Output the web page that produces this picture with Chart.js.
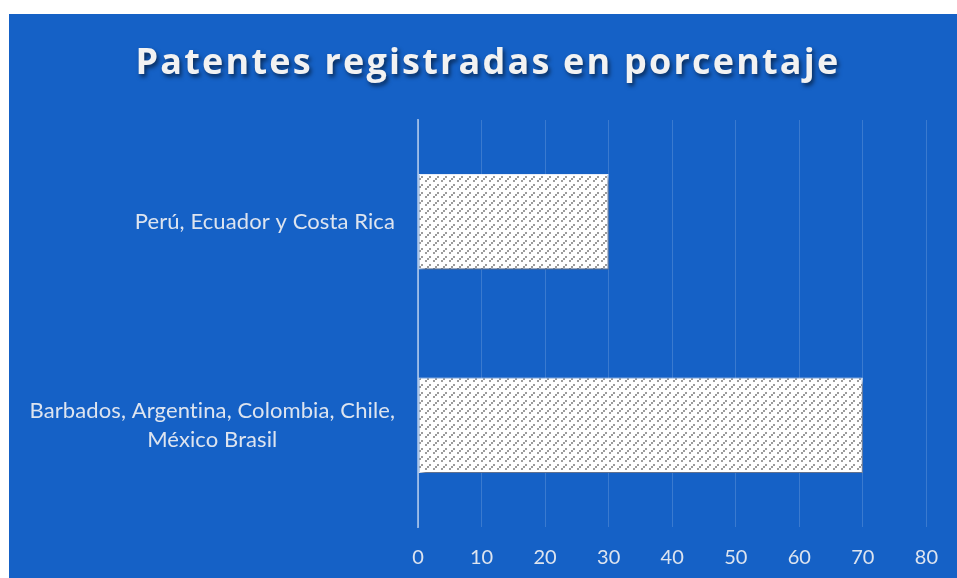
<!DOCTYPE html>
<html>
<head>
<meta charset="utf-8">
<script src="https://cdn.jsdelivr.net/npm/chart.js@4"></script>
<style>
  html, body { margin: 0; padding: 0; background: #fff; }
  #frame { position: absolute; left: 9px; top: 14px; width: 948px; height: 564px; background: #1561c6; }
</style>
</head>
<body>
<div id="frame"><canvas id="chart"></canvas></div>
<script>
const chartTitle = "Patentes registradas en porcentaje";
const categories = [
  ["Perú, Ecuador y Costa Rica"],
  ["Barbados, Argentina, Colombia, Chile,", "México Brasil"]
];
const values = [30, 70];
const xMin = 0;
const xMax = 80;
const xStep = 10;

const labelColor = "#dde4ef";
const labelFont = '22px Lato';

// dotted diagonal fill, 2px dots stepping up-right
function makePattern() {
  const c = document.createElement("canvas");
  c.width = 8; c.height = 8;
  const g = c.getContext("2d");
  g.fillStyle = "#ffffff";
  g.fillRect(0, 0, 8, 8);
  g.fillStyle = "#9c9c9c";
  [[0, 6], [2, 4], [4, 2]].forEach(([x, y]) => g.fillRect(x, y, 2, 2));
  return g.createPattern(c, "repeat");
}

const barShadow = {
  id: "barShadow",
  beforeDatasetsDraw(chart) {
    const ctx = chart.ctx;
    ctx.save();
    ctx.shadowColor = "rgba(0, 20, 60, 0.6)";
    ctx.shadowOffsetX = 3;
    ctx.shadowOffsetY = 4;
    ctx.shadowBlur = 4;
  },
  afterDatasetsDraw(chart) {
    chart.ctx.restore();
  }
};

const sideLabels = {
  id: "sideLabels",
  afterDraw(chart) {
    const ctx = chart.ctx;
    const yScale = chart.scales.y;
    const right = chart.chartArea.left - 23;
    ctx.save();
    ctx.font = labelFont;
    ctx.letterSpacing = "0.1px"; // also keeps "ti" from joining
    ctx.fillStyle = labelColor;
    ctx.textAlign = "center";
    ctx.textBaseline = "middle";
    categories.forEach((lines, i) => {
      const cy = yScale.getPixelForValue(i);
      const widest = Math.max(...lines.map(l => ctx.measureText(l).width));
      const cx = right - widest / 2;
      const lh = 29;
      lines.forEach((l, j) => {
        ctx.fillText(l, cx, cy + (j - (lines.length - 1) / 2) * lh);
      });
    });
    ctx.restore();
  }
};

const titleDraw = {
  id: "titleDraw",
  afterDraw(chart) {
    const ctx = chart.ctx;
    ctx.save();
    ctx.font = 'bold 36px "Open Sans"';
    ctx.letterSpacing = "2.2px";
    ctx.textAlign = "center";
    ctx.textBaseline = "middle";
    ctx.shadowColor = "rgba(0, 0, 0, 0.55)";
    ctx.shadowOffsetX = 2;
    ctx.shadowOffsetY = 3;
    ctx.shadowBlur = 4;
    ctx.fillStyle = "#f2f2f2";
    ctx.fillText(chartTitle, 479, 50);
    ctx.restore();
  }
};

new Chart(document.getElementById("chart"), {
  type: "bar",
  data: {
    labels: categories,
    datasets: [{
      data: values,
      backgroundColor: makePattern(),
      borderColor: "rgba(255,255,255,0.9)",
      borderWidth: 1,
      borderSkipped: false,
      categoryPercentage: 1,
      barPercentage: 0.47
    }]
  },
  plugins: [barShadow, sideLabels, titleDraw],
  options: {
    indexAxis: "y",
    responsive: true,
    maintainAspectRatio: false,
    animation: false,
    layout: { padding: { top: 106, right: 27, bottom: 0, left: 0 } },
    plugins: { legend: { display: false }, tooltip: { enabled: false }, title: { display: false } },
    scales: {
      x: {
        min: xMin,
        max: xMax,
        grid: { color: "rgba(255,255,255,0.16)", lineWidth: 1, drawTicks: false },
        border: { display: false },
        ticks: { stepSize: xStep, color: labelColor, font: { family: "Lato", size: 20 }, padding: 19 },
        afterFit(scale) { scale.height = 51; }
      },
      y: {
        grid: { display: false },
        border: { color: "rgba(255,255,255,0.5)", width: 2 },
        ticks: { display: false },
        afterFit(scale) { scale.width = 409; }
      }
    }
  }
});
</script>
</body>
</html>
